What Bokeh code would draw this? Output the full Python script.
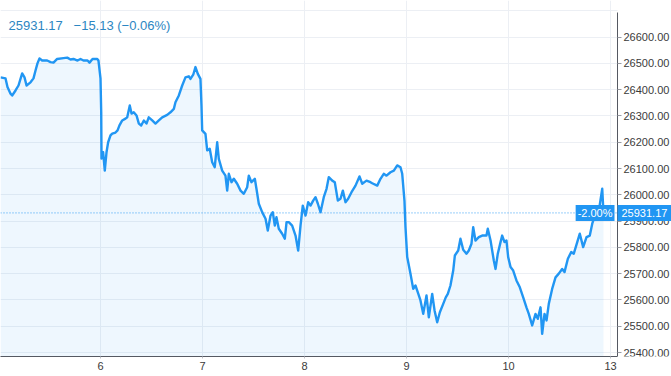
from bokeh.plotting import figure
from bokeh.models import FixedTicker, Range1d, Label, Span, NumeralTickFormatter, BoxAnnotation
from bokeh.embed import file_html
from bokeh.resources import INLINE

# ---- data ----
day_ticks = [1, 2, 3, 4, 5, 6]
day_labels = ["6", "7", "8", "9", "10", "13"]
price_ticks = [25400, 25500, 25600, 25700, 25800, 25900, 26000,
               26100, 26200, 26300, 26400, 26500, 26600]
grid_ticks = price_ticks + [26700]

# fractional trading-day position (1 = day "6", 6 = day "13")
times = [0.020, 0.069, 0.088, 0.118, 0.134, 0.167, 0.196, 0.232, 0.255, 0.275,
         0.314, 0.343, 0.363, 0.382, 0.402, 0.428, 0.477, 0.510, 0.539, 0.575,
         0.637, 0.674, 0.706, 0.735, 0.775, 0.804, 0.833, 0.873, 0.892, 0.922,
         0.968, 0.980, 1.000, 1.007, 1.010, 1.026, 1.042, 1.059, 1.075, 1.098,
         1.115, 1.147, 1.167, 1.186, 1.213, 1.245, 1.262, 1.287, 1.304, 1.326,
         1.353, 1.376, 1.399, 1.425, 1.451, 1.473, 1.507, 1.539, 1.572, 1.605,
         1.654, 1.686, 1.719, 1.735, 1.768, 1.801, 1.833, 1.866, 1.882, 1.909,
         1.931, 1.954, 1.980, 1.990, 1.997, 2.029, 2.046, 2.071, 2.095, 2.120,
         2.144, 2.160, 2.193, 2.225, 2.242, 2.258, 2.284, 2.307, 2.340, 2.373,
         2.405, 2.438, 2.454, 2.480, 2.513, 2.529, 2.552, 2.585, 2.618, 2.640,
         2.667, 2.689, 2.709, 2.725, 2.748, 2.781, 2.807, 2.824, 2.846, 2.879,
         2.912, 2.938, 2.961, 2.983, 3.010, 3.036, 3.059, 3.085, 3.108, 3.131,
         3.157, 3.189, 3.216, 3.238, 3.272, 3.297, 3.327, 3.353, 3.376, 3.402,
         3.428, 3.461, 3.500, 3.539, 3.566, 3.608, 3.647, 3.664, 3.713, 3.745,
         3.777, 3.804, 3.843, 3.876, 3.909, 3.941, 3.958, 3.980, 3.990, 4.007,
         4.039, 4.066, 4.088, 4.111, 4.137, 4.164, 4.196, 4.219, 4.252, 4.275,
         4.301, 4.327, 4.360, 4.385, 4.405, 4.431, 4.458, 4.474, 4.507, 4.529,
         4.556, 4.588, 4.611, 4.637, 4.654, 4.676, 4.709, 4.742, 4.784, 4.797,
         4.824, 4.856, 4.873, 4.895, 4.922, 4.938, 4.961, 4.980, 4.997, 5.020,
         5.046, 5.078, 5.111, 5.144, 5.176, 5.199, 5.232, 5.265, 5.287, 5.314,
         5.330, 5.353, 5.373, 5.395, 5.428, 5.461, 5.493, 5.526, 5.549, 5.582,
         5.615, 5.640, 5.674, 5.699, 5.732, 5.765, 5.797, 5.821, 5.853, 5.886,
         5.919, 5.931]

prices = [26447, 26443, 26410, 26385, 26378, 26397, 26416, 26462, 26447, 26416,
          26428, 26443, 26473, 26500, 26519, 26511, 26511, 26505, 26503, 26517,
          26520, 26522, 26515, 26517, 26511, 26517, 26511, 26511, 26503, 26517,
          26517, 26511, 26443, 26314, 26138, 26162, 26092, 26162, 26200, 26226,
          26233, 26237, 26245, 26264, 26283, 26290, 26295, 26340, 26309, 26314,
          26302, 26271, 26264, 26283, 26271, 26295, 26283, 26271, 26283, 26295,
          26304, 26314, 26327, 26352, 26378, 26416, 26447, 26451, 26441, 26457,
          26486, 26460, 26441, 26340, 26245, 26232, 26169, 26175, 26124, 26105,
          26200, 26137, 26092, 26073, 26016, 26080, 26048, 26061, 26042, 26016,
          26004, 26029, 26073, 26048, 26061, 26023, 25966, 25934, 25909, 25864,
          25921, 25934, 25883, 25915, 25871, 25852, 25833, 25896, 25896, 25883,
          25845, 25788, 25883, 25959, 25921, 25972, 25959, 25978, 25991, 25966,
          25934, 25991, 26023, 26067, 26054, 26048, 25978, 25985, 26016, 25972,
          25985, 26010, 26035, 26070, 26042, 26054, 26048, 26044, 26035, 26061,
          26080, 26073, 26086, 26092, 26112, 26105, 26080, 25978, 25877, 25763,
          25700, 25642, 25655, 25629, 25598, 25547, 25617, 25534, 25623, 25560,
          25515, 25553, 25585, 25610, 25623, 25655, 25712, 25769, 25788, 25833,
          25791, 25776, 25788, 25814, 25877, 25826, 25839, 25845, 25845, 25871,
          25826, 25750, 25718, 25776, 25820, 25845, 25820, 25826, 25763, 25725,
          25712, 25674, 25648, 25610, 25572, 25547, 25503, 25547, 25528, 25572,
          25471, 25547, 25522, 25585, 25642, 25686, 25700, 25718, 25706, 25757,
          25782, 25776, 25820, 25852, 25801, 25839, 25845, 25890, 25928, 25940,
          26023, 25931.17]

last_price = 25931.17
change = -15.13
change_pct = -0.06
range_change_label = "-2.00%"

# ---- layout constants ----
PX_PER_DAY = 102.0
X0 = 0.0196                      # left edge of the chart
X1 = X0 + 617 / PX_PER_DAY       # where the price scale starts
XE = X0 + 671 / PX_PER_DAY       # right edge of the canvas
Y0, Y1 = 25384.8, 26739.4
BLUE = "#2196f3"
FONT = "Liberation Sans"

p = figure(width=671, height=376, output_backend="svg", toolbar_location=None,
           x_range=Range1d(X0, XE), y_range=Range1d(Y0, Y1),
           y_axis_location="right",
           min_border_left=0, min_border_top=0,
           min_border_right=0, min_border_bottom=20)
p.outline_line_color = None
p.background_fill_color = "white"
p.border_fill_color = "white"

# grids
p.xgrid.ticker = FixedTicker(ticks=day_ticks)
p.ygrid.ticker = FixedTicker(ticks=grid_ticks)
p.xgrid.grid_line_color = "#eceff4"
p.ygrid.grid_line_color = "#eceff4"

# white price-scale strip (hides the grid under the scale)
p.add_layout(BoxAnnotation(left=X1, fill_color="white", fill_alpha=1.0,
                           line_color=None, level="glyph"))

# y axis (price scale, drawn at X1 inside the canvas)
yax = p.yaxis[0]
yax.fixed_location = X1
yax.bounds = (Y0, 26694)
yax.ticker = FixedTicker(ticks=price_ticks)
yax.formatter = NumeralTickFormatter(format="0.00")
yax.major_label_text_font = FONT
yax.major_label_text_font_size = "11px"
yax.major_label_text_color = "#3b3b3b"
yax.axis_line_color = "#555962"
yax.major_tick_out = 4
yax.major_tick_in = 0
yax.minor_tick_line_color = None
yax.major_tick_line_color = "#9a9ca3"
yax.major_label_standoff = 2

# x axis (bottom)
xax = p.xaxis[0]
xax.bounds = (X0, X1)
xax.ticker = FixedTicker(ticks=day_ticks)
xax.major_label_overrides = {t: l for t, l in zip(day_ticks, day_labels)}
xax.major_label_text_font = FONT
xax.major_label_text_font_size = "11px"
xax.major_label_text_color = "#3b3b3b"
xax.axis_line_color = "#555962"
xax.major_tick_out = 2
xax.major_tick_in = 0
xax.minor_tick_line_color = None
xax.major_tick_line_color = "#c0c2c8"
xax.major_label_standoff = 3

# area + line
p.varea(x=times, y1=prices, y2=Y0, fill_color=BLUE, fill_alpha=0.08)
p.line(times, prices, line_color=BLUE, line_width=2.4, line_join="round")

# last price dotted line
p.add_layout(Span(location=last_price, dimension="width", line_color=BLUE,
                  line_dash="1 2", line_width=1, line_alpha=0.9))

# header
NB = "\u00a0"
header = f"{last_price:.2f}{NB}{NB} \u2212{abs(change):.2f} (\u2212{abs(change_pct):.2f}%)"
p.add_layout(Label(x=8, y=331, x_units="screen", y_units="screen", text=header,
                   text_font=FONT, text_font_size="13px", text_color="#2c86c2",
                   text_baseline="middle", text_align="left"))

# price tags
p.add_layout(Label(x=X1, y=last_price, x_units="data", y_units="data",
                   text=f"{last_price:.2f}", text_font=FONT, text_font_size="11px",
                   text_color="white", text_baseline="middle", text_align="left",
                   background_fill_color=BLUE, background_fill_alpha=1.0,
                   padding=4))
p.add_layout(Label(x=614, y=last_price, x_units="screen", y_units="data",
                   text=range_change_label, text_font=FONT, text_font_size="11px",
                   text_color="white", text_baseline="middle", text_align="right",
                   background_fill_color=BLUE, background_fill_alpha=1.0,
                   padding=2))

open("out.html", "w").write(file_html(p, INLINE))
